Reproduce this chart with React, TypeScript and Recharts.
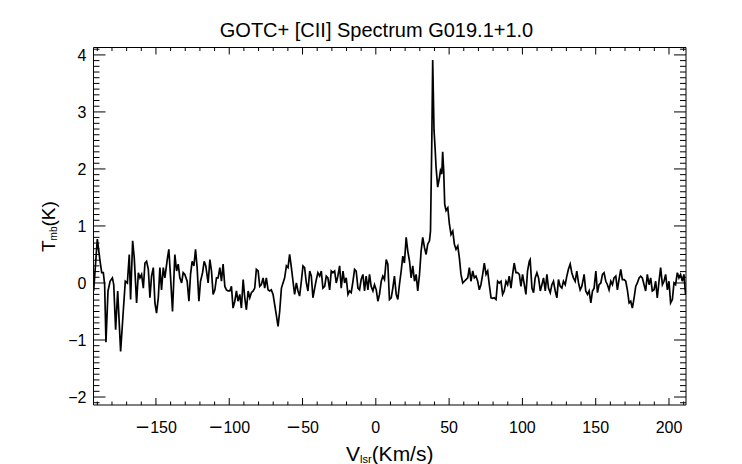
import { LineChart, Line, XAxis, YAxis, Label } from "recharts";

const FONT = '"Liberation Sans", Arial, Helvetica, sans-serif';

// [velocity km/s, Tmb K]
const farLeft: [number, number][] = [
  [-192.5, -0.14], [-190.0, 0.77], [-188.1, 0.38], [-187.0, 0.18], [-185.9, 0.18], [-185.0, -0.03],
  [-184.1, -1.04], [-182.7, -0.14], [-181.3, 0.03], [-179.7, 0.09], [-178.8, -0.03], [-177.5, -0.82],
  [-176.1, -0.14], [-174.1, -1.2], [-172.3, -0.5], [-170.9, 0.03], [-169.5, 0.0], [-168.2, 0.5],
  [-167.3, -0.29], [-165.9, 0.74], [-164.8, 0.44], [-163.2, -0.35], [-162.0, 0.18], [-160.9, 0.09],
  [-159.8, 0.15], [-158.6, -0.09], [-157.5, 0.35], [-156.4, 0.38], [-155.2, 0.24], [-154.1, -0.26],
  [-153.0, 0.12], [-151.8, 0.27], [-150.7, -0.35], [-149.6, -0.53], [-148.4, -0.26], [-147.3, 0.27],
  [-146.2, -0.12], [-145.0, 0.27], [-143.9, 0.09], [-142.3, 0.41], [-141.2, 0.59], [-140.0, 0.09],
  [-138.7, -0.5], [-137.1, 0.5], [-135.9, 0.21], [-134.8, 0.33], [-133.7, 0.09], [-132.5, 0.0],
  [-131.4, 0.18], [-130.3, 0.15], [-128.7, 0.03], [-127.5, -0.32], [-126.4, 0.15], [-125.3, 0.38],
  [-124.1, 0.3], [-123.0, 0.59], [-121.9, 0.27], [-120.7, -0.32],
];

const leftWing: [number, number][] = [
  [-119.6, 0.03], [-118.2, 0.18], [-117.1, 0.38], [-116.0, 0.3], [-114.4, 0.0], [-113.2, 0.41],
  [-112.1, 0.21], [-111.0, -0.2], [-109.8, -0.12], [-108.7, 0.09], [-107.6, 0.09], [-106.4, 0.27],
  [-105.3, 0.03], [-104.2, 0.33], [-103.0, -0.06], [-101.9, -0.12], [-100.8, -0.14], [-99.6, -0.14],
  [-98.5, -0.06], [-97.4, -0.44], [-96.2, -0.32], [-95.1, -0.14], [-94.0, -0.32], [-92.8, -0.2],
  [-91.7, -0.44], [-90.5, 0.06], [-89.4, -0.26], [-88.3, -0.47], [-87.1, -0.14], [-86.0, -0.26],
  [-84.9, -0.17], [-83.7, -0.14], [-82.6, -0.09], [-81.5, 0.24], [-80.3, 0.21], [-79.2, -0.06],
  [-78.1, -0.03], [-76.9, 0.09], [-75.8, -0.09], [-74.7, 0.09], [-73.5, -0.12], [-72.4, -0.14],
  [-71.3, -0.12], [-70.1, -0.2], [-69.0, -0.38], [-67.9, -0.56], [-66.7, -0.76], [-65.6, -0.5],
  [-64.4, -0.09], [-63.3, 0.0], [-62.2, 0.09], [-61.0, 0.3], [-59.9, 0.27], [-58.8, 0.5],
  [-57.6, 0.27], [-56.5, 0.03], [-55.4, -0.2], [-54.2, 0.0], [-53.1, -0.14], [-52.0, -0.23],
];

const nearZero: [number, number][] = [
  [-50.8, 0.03], [-49.7, 0.3], [-48.6, 0.27], [-47.4, 0.0], [-46.3, -0.14], [-45.1, 0.21],
  [-44.0, 0.12], [-42.9, -0.26], [-41.7, -0.09], [-40.6, 0.06], [-39.5, 0.18], [-38.3, 0.12],
  [-37.2, 0.21], [-36.1, -0.09], [-34.9, -0.06], [-33.8, 0.12], [-32.7, 0.09], [-31.5, -0.12],
  [-30.4, 0.21], [-29.3, 0.18], [-28.1, 0.21], [-27.0, 0.0], [-25.9, 0.12], [-24.7, 0.3],
  [-23.6, -0.09], [-22.4, 0.21], [-21.3, 0.0], [-20.2, 0.09], [-19.0, -0.2], [-17.9, -0.14],
  [-16.8, -0.17], [-15.6, 0.03], [-14.5, 0.24], [-13.4, 0.21], [-12.2, -0.09], [-11.1, -0.12],
  [-10.0, 0.06], [-8.8, 0.15], [-7.7, -0.14], [-6.6, 0.12], [-5.4, -0.12], [-4.3, 0.15],
  [-3.2, -0.06], [-2.0, -0.14], [-0.9, -0.03], [0.3, -0.12], [1.4, -0.32],
];

const lineCore: [number, number][] = [
  [2.5, -0.2], [3.7, 0.03], [4.8, 0.12], [5.9, 0.06], [7.1, 0.41], [8.2, 0.33], [9.3, -0.29],
  [10.5, -0.26], [11.6, -0.09], [12.7, 0.12], [13.9, -0.2], [15.0, -0.29], [16.1, -0.03], [17.3, 0.21],
  [18.4, 0.47], [19.5, 0.35], [20.7, 0.8], [21.8, 0.56], [23.0, 0.38], [24.1, 0.09], [25.2, 0.3],
  [26.4, 0.03], [27.5, 0.15], [28.6, -0.14], [29.8, 0.15], [30.9, 0.56], [32.0, 0.8], [33.2, 0.62],
  [34.3, 0.5], [35.4, 0.68], [36.6, 0.74], [37.3, 0.91], [38.2, 2.5], [38.8, 3.91], [39.7, 2.68],
  [40.4, 2.38], [41.1, 2.03], [42.2, 1.68], [43.4, 1.85], [44.1, 1.97], [45.0, 1.91], [45.6, 2.3],
  [46.3, 1.97], [47.0, 1.38], [47.9, 1.27], [49.1, 1.32], [50.2, 1.03], [51.3, 0.85], [52.5, 0.91],
  [53.6, 0.68], [54.7, 0.59], [55.9, 0.65], [57.0, 0.44], [58.1, 0.15], [59.3, 0.0], [60.4, 0.03],
  [61.5, 0.06], [62.7, 0.09], [63.8, 0.27], [64.9, 0.03], [66.1, 0.21], [67.2, 0.09], [68.3, 0.12],
  [69.5, 0.03],
];

const rightWing: [number, number][] = [
  [70.6, -0.12], [71.7, -0.03], [72.9, 0.15], [74.0, 0.35], [75.2, 0.15], [76.3, 0.21], [77.4, -0.03],
  [78.6, -0.26], [79.7, -0.27], [80.8, -0.26], [82.0, -0.29], [83.1, 0.03], [84.2, 0.0], [85.4, 0.03],
  [86.5, -0.2], [87.6, -0.14], [88.8, 0.03], [89.9, -0.03], [91.0, 0.12], [92.2, -0.09], [93.3, 0.15],
  [94.4, 0.35], [95.6, 0.18], [96.7, 0.18], [97.9, 0.15], [99.0, -0.06], [100.1, 0.15], [101.3, -0.03],
  [102.4, -0.2], [103.5, 0.21], [104.7, 0.38], [105.3, 0.41], [106.5, -0.09], [107.6, -0.17],
  [108.7, 0.09], [109.9, 0.18], [111.0, 0.09], [112.2, -0.14], [113.3, -0.03], [114.4, 0.09],
  [115.6, -0.14], [116.7, 0.15], [117.8, -0.09], [119.0, -0.17], [120.1, -0.03], [121.2, 0.03],
  [122.4, -0.14], [123.5, -0.26], [124.6, 0.06], [125.8, -0.06], [126.9, -0.09], [128.0, 0.03],
  [129.2, -0.03], [130.3, 0.12], [131.4, 0.24], [132.6, 0.33], [133.7, 0.18], [134.8, 0.09],
  [136.0, 0.03], [137.1, 0.21], [138.3, 0.0], [139.4, -0.12], [140.5, -0.06], [141.7, 0.09],
];

const farRight: [number, number][] = [
  [142.1, 0.15], [143.2, -0.14], [144.4, -0.2], [145.5, -0.14], [146.7, -0.35], [147.8, -0.14],
  [148.9, -0.09], [150.1, 0.21], [151.2, -0.17], [152.3, -0.03], [153.5, 0.0], [154.6, 0.15],
  [155.7, 0.18], [156.9, 0.03], [158.0, -0.03], [159.1, -0.12], [160.3, 0.03], [161.4, -0.03],
  [162.5, 0.09], [163.7, 0.12], [164.8, -0.12], [165.9, 0.06], [167.1, 0.24], [168.2, 0.06],
  [169.4, 0.06], [170.5, 0.03], [171.6, -0.12], [172.8, -0.35], [173.9, -0.32], [175.0, -0.44],
  [176.2, -0.26], [177.3, -0.06], [178.4, 0.0], [179.6, 0.09], [180.7, 0.12], [181.8, 0.09],
  [183.0, -0.03], [184.1, -0.14], [185.2, 0.15], [186.4, -0.03], [187.5, 0.09], [188.6, -0.14],
  [189.8, -0.12], [190.9, 0.03], [192.0, -0.26], [193.2, 0.03], [194.3, 0.27], [195.5, -0.03],
  [196.6, 0.03], [197.7, 0.15], [198.9, -0.12], [200.0, 0.03], [201.1, -0.35], [202.3, -0.29],
  [203.4, 0.0], [204.5, -0.03], [205.7, 0.18], [206.8, 0.09], [207.9, 0.15], [209.1, 0.03],
  [210.2, 0.15], [211.3, -0.2],
];

const xMajorTicks = [-150, -100, -50, 0, 50, 100, 150, 200];
const yMajorTicks = [-2, -1, 0, 1, 2, 3, 4];

const X_DOMAIN: [number, number] = [-192.6, 211.6];
const Y_DOMAIN: [number, number] = [-2.14, 4.13];

const spectrum = [...farLeft, ...leftWing, ...nearZero, ...lineCore, ...rightWing, ...farRight].map(
  ([v, t]) => ({ v, t })
);

// minor tick positions (every 10 km/s, every 0.1 K)
const steps = (from: number, to: number, step: number) => {
  const out: number[] = [];
  const n = Math.round((to - from) / step);
  for (let i = 0; i <= n; i++) out.push(Math.round((from + i * step) * 1000) / 1000);
  return out;
};
const xTicks = steps(-190, 210, 10);
const yTicks = steps(-2.1, 4.1, 0.1);

const isMajor = (v: number, majors: number[]) => majors.some((m) => Math.abs(m - v) < 1e-6);

function BottomTick({ x, y, payload }: any) {
  const major = isMajor(payload.value, xMajorTicks);
  const v = payload.value;
  return (
    <g>
      <line x1={x} x2={x} y1={y} y2={y - (major ? 7 : 3.5)} stroke="#000" />
      {major && (
        <text x={x} y={y + 28} textAnchor="middle" fontSize={16} fontFamily={FONT} fill="#000">
          {v < 0 && (
            <tspan fontFamily='"DejaVu Sans", sans-serif' fontSize={18}>
              −
            </tspan>
          )}
          <tspan>{Math.abs(v)}</tspan>
        </text>
      )}
    </g>
  );
}

function TopTick({ x, y, payload }: any) {
  const major = isMajor(payload.value, xMajorTicks);
  return <line x1={x} x2={x} y1={y} y2={y + (major ? 7 : 3.5)} stroke="#000" />;
}

function LeftTick({ x, y, payload }: any) {
  const major = isMajor(payload.value, yMajorTicks);
  const v = Math.round(payload.value);
  return (
    <g>
      <line x1={x} x2={x + (major ? 12 : 6)} y1={y} y2={y} stroke="#000" />
      {major && (
        <text x={x - 7} y={y + 6} textAnchor="end" fontSize={16} fontFamily={FONT} fill="#000">
          {v < 0 ? `−${Math.abs(v)}` : v}
        </text>
      )}
    </g>
  );
}

function RightTick({ x, y, payload }: any) {
  const major = isMajor(payload.value, yMajorTicks);
  return <line x1={x} x2={x - (major ? 12 : 6)} y1={y} y2={y} stroke="#000" />;
}

const renderTexts = () => (
  <g>
    <text x={376.5} y={37} textAnchor="middle" fontSize={20} fontFamily={FONT} fill="#000">
      GOTC+ [CII] Spectrum G019.1+1.0
    </text>
    <text x={346} y={461} fontSize={21} fontFamily={FONT} fill="#000">
      V
      <tspan fontSize={11} dy={2}>
        lsr
      </tspan>
      <tspan dy={-2}>(Km/s)</tspan>
    </text>
  </g>
);

const renderYLabel = () => (
  <text transform="translate(55, 252) rotate(-90)" fontSize={19} fontFamily={FONT} fill="#000">
    T
    <tspan fontSize={10} dy={2}>
      mb
    </tspan>
    <tspan dy={-2}>(K)</tspan>
  </text>
);

export default function App() {
  const axisLine = { stroke: "#000", strokeWidth: 1 };
  return (
    <div style={{ position: "absolute", left: 0, top: 0, background: "#fff" }}>
      <LineChart
        width={742}
        height={464}
        data={spectrum}
        margin={{ top: 46.5, right: 55, bottom: 0, left: 0 }}
      >
        <XAxis
          dataKey="v"
          type="number"
          domain={X_DOMAIN}
          allowDataOverflow
          ticks={xTicks}
          interval={0}
          height={59}
          tickSize={0}
          tickMargin={0}
          tickLine={false}
          axisLine={axisLine}
          tick={<BottomTick />}
        >
          <Label content={renderTexts} />
        </XAxis>
        <XAxis
          xAxisId="top"
          orientation="top"
          dataKey="v"
          type="number"
          domain={X_DOMAIN}
          allowDataOverflow
          ticks={xTicks}
          interval={0}
          height={1}
          tickSize={0}
          tickMargin={0}
          tickLine={false}
          axisLine={axisLine}
          tick={<TopTick />}
        />
        <YAxis
          type="number"
          domain={Y_DOMAIN}
          allowDataOverflow
          ticks={yTicks}
          interval={0}
          width={93.5}
          tickSize={0}
          tickMargin={0}
          tickLine={false}
          axisLine={axisLine}
          tick={<LeftTick />}
        >
          <Label content={renderYLabel} />
        </YAxis>
        <YAxis
          yAxisId="right"
          orientation="right"
          type="number"
          domain={Y_DOMAIN}
          allowDataOverflow
          ticks={yTicks}
          interval={0}
          width={1}
          tickSize={0}
          tickMargin={0}
          tickLine={false}
          axisLine={axisLine}
          tick={<RightTick />}
        />
        <Line
          type="linear"
          dataKey="t"
          stroke="#000"
          strokeWidth={1.7}
          dot={false}
          isAnimationActive={false}
        />
        {/* same spectrum on the mirror axes so the top/right frame gets drawn */}
        <Line
          xAxisId="top"
          yAxisId="right"
          type="linear"
          dataKey="t"
          stroke="none"
          dot={false}
          activeDot={false}
          legendType="none"
          isAnimationActive={false}
        />
      </LineChart>
    </div>
  );
}
